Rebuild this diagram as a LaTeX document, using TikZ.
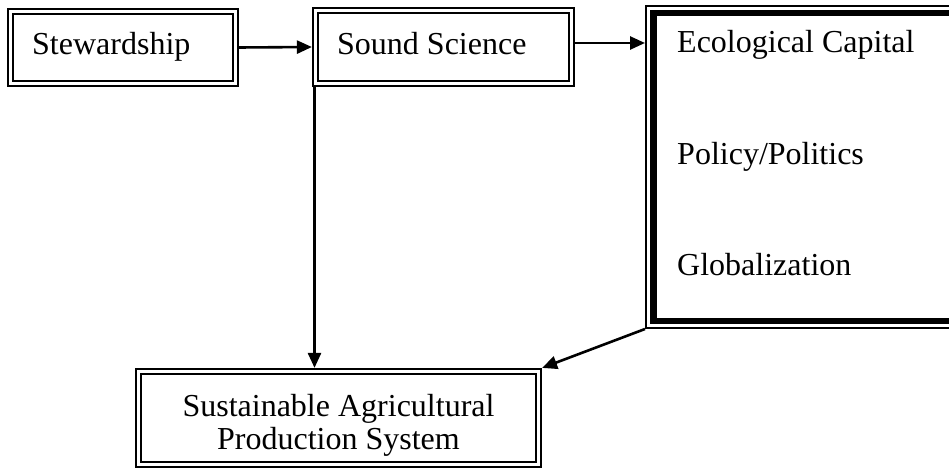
\documentclass[tikz,border=0pt]{standalone}
\usepackage{fontspec}
\setmainfont{Liberation Serif}
\usetikzlibrary{arrows.meta}
\begin{document}
\begin{tikzpicture}[x=1pt,y=-1pt,
  dbox/.style={draw=black,line width=2.2pt,double=white,double distance=2.8pt,outer sep=3.6pt,inner sep=0pt},
  lbl/.style={anchor=base west,inner sep=0pt,font=\fontsize{32}{34}\selectfont},
  arr/.style={line width=2.6pt,-{Triangle[length=15pt,width=13pt]}}]
\useasboundingbox (0,0) rectangle (949,470);
\clip (0,0) rectangle (949,470);
% boxes
\node[dbox,minimum width=225pt,minimum height=72pt] (stew) at (123,47.5) {};
\node[dbox,minimum width=256pt,minimum height=73pt] (sound) at (443.5,47) {};
\node[dbox,minimum width=400pt,minimum height=93pt] (sap) at (338.5,418) {};
\node[inner sep=0pt,outer sep=0pt,minimum width=320pt,minimum height=324pt] (eco) at (805,167) {};
% right box borders: thin outer, thick inner
\draw[line width=1.8pt] (645.9,5.9) rectangle (970,328.1);
\draw[line width=6.5pt] (653.25,13.25) rectangle (970,321);
% labels
\node[lbl] (tstew) at (32,55) {Stewardship};
\node[lbl] (tsound) at (337,55) {Sound Science};
\node[lbl] (teco) at (677,53) {Ecological Capital};
\node[lbl] (tpol) at (677,165) {Policy/Politics};
\node[lbl] (tglob) at (677,275) {Globalization};
\node[inner sep=0pt,align=center,font=\fontsize{32}{33}\selectfont] (tsap) at (338.5,425) {Sustainable Agricultural\\Production System};
% connectors
\draw[arr] (stew.east) -- (sound.west);
\draw[arr] (sound.east |- 0,43) -- (eco.west |- 0,43);
\draw[arr] (sound.south -| 314.5,0) -- (sap.north -| 314.5,0);
\draw[arr] (eco.south west) -- (sap.north east);
\end{tikzpicture}
\end{document}
